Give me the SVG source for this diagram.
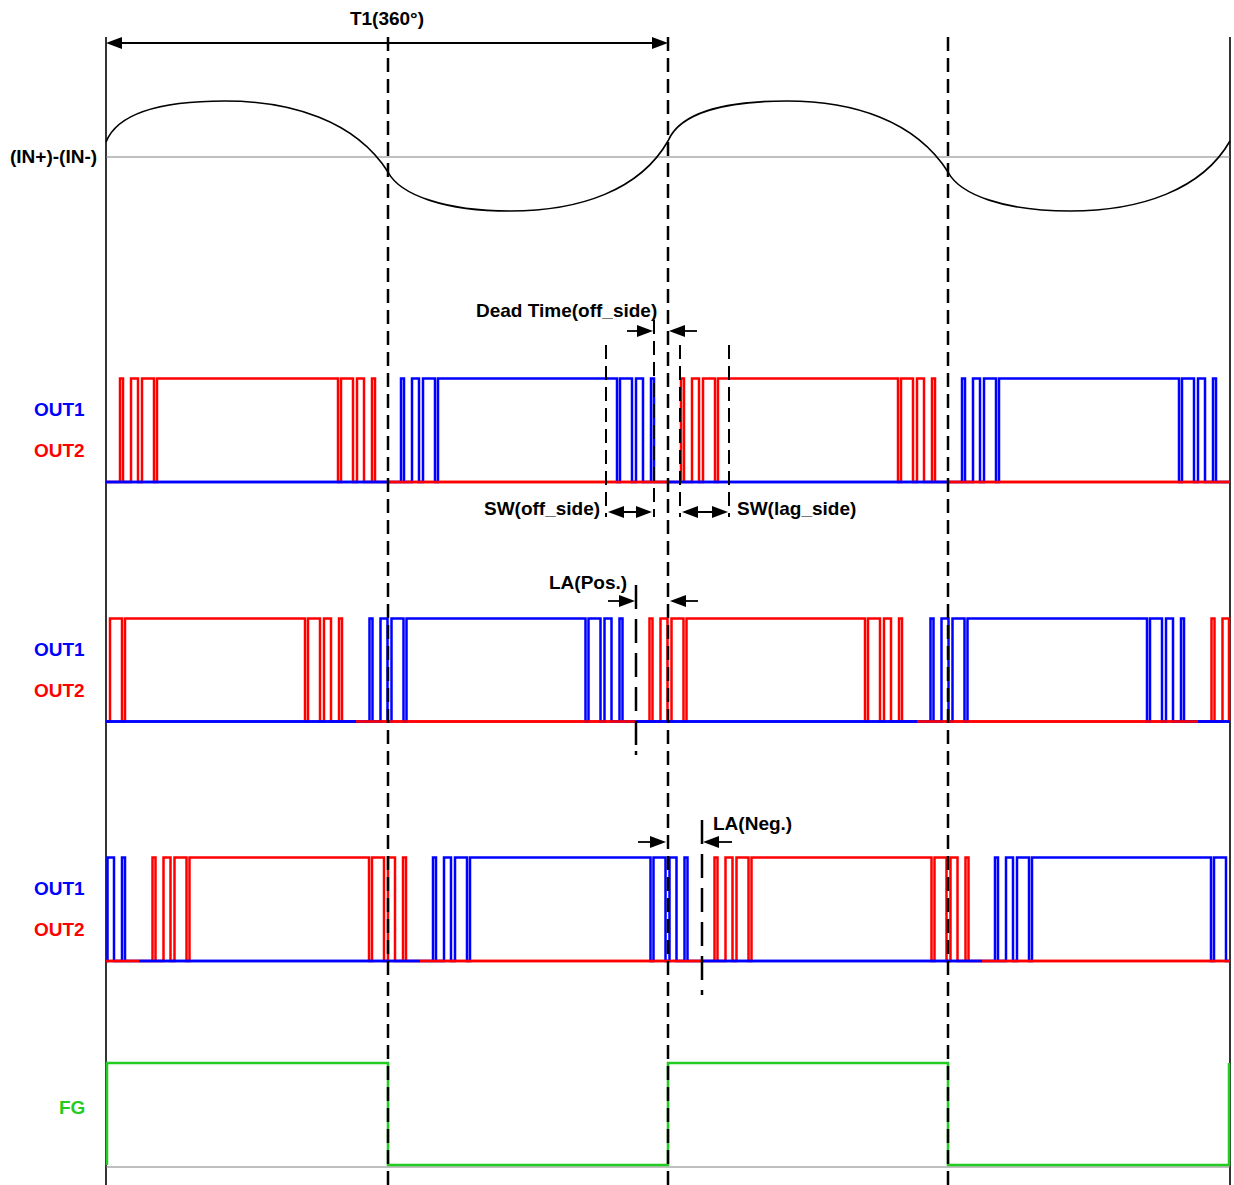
<svg xmlns="http://www.w3.org/2000/svg" width="1234" height="1185" viewBox="0 0 1234 1185">
<style>
text{font-family:"Liberation Sans",Arial,sans-serif;font-weight:bold;font-size:19px;fill:#000}
.b{fill:#0000FF}.r{fill:#FF0000}.g{fill:#22CC22}
.sig{fill:none;stroke-width:2.5;stroke-linejoin:miter}
.rs{stroke:#FF0000}.bs{stroke:#0000FF}
.axis{stroke:#000;stroke-width:1.6;fill:none}
.zero{stroke:#808080;stroke-width:1.2;fill:none}
.dash{stroke:#000;stroke-width:2.5;stroke-dasharray:14 7;fill:none}
.dashs{stroke:#000;stroke-width:2;stroke-dasharray:14 7;fill:none}
.dd{stroke:#000;stroke-width:2.5;stroke-dasharray:24 10;fill:none}
.arr{stroke:#000;stroke-width:1.8;fill:none;marker-end:url(#ah)}
.arr2{stroke:#000;stroke-width:1.8;fill:none;marker-start:url(#ah);marker-end:url(#ah)}
</style>
<defs>
<marker id="ah" viewBox="0 0 16 12" refX="12" refY="6" markerWidth="16" markerHeight="12" markerUnits="userSpaceOnUse" orient="auto-start-reverse"><path d="M0,0L16,6L0,12z" fill="#000"/></marker>
</defs>

<g id="frame">
<line class="axis" x1="106" y1="37" x2="106" y2="1185"/>
<line class="axis" x1="1230" y1="37" x2="1230" y2="1185"/>
<line class="zero" x1="106" y1="157" x2="1230" y2="157"/>
<line class="zero" x1="106" y1="1167" x2="1230" y2="1167"/>
</g>

<g id="labels">
<text x="387" y="25" text-anchor="middle">T1(360°)</text>
<text x="10" y="163">(IN+)-(IN-)</text>
<text x="34" y="416" class="b">OUT1</text>
<text x="34" y="457" class="r">OUT2</text>
<text x="34" y="656" class="b">OUT1</text>
<text x="34" y="697" class="r">OUT2</text>
<text x="34" y="895" class="b">OUT1</text>
<text x="34" y="936" class="r">OUT2</text>
<text x="59" y="1114" class="g">FG</text>
<text x="476" y="317">Dead Time(off_side)</text>
<text x="484" y="515">SW(off_side)</text>
<text x="737" y="515">SW(lag_side)</text>
<text x="549" y="589">LA(Pos.)</text>
<text x="713" y="830">LA(Neg.)</text>
</g>

<g id="sine">
<path fill="none" stroke="#000" stroke-width="1.6" d="M106,142 C118,112 165,101 225,101 C290,101 355,120 388,172 C400,195 445,211 510,211 C580,211 640,190 668,141 C680,112 727,101 787,101 C852,101 915,120 948,172 C960,195 1005,211 1070,211 C1140,211 1202,190 1230,141"/>
</g>

<g id="panel1">
<path class="sig rs" d="M106,482 H120 V378.5 H123 V482 H131 V378.5 H138 V482 H142 V378.5 H154 V482 H157 V378.5 H338 V482 H341 V378.5 H353 V482 H357 V378.5 H364 V482 H372 V378.5 H375 V482 H681 V378.5 H684 V482 H692 V378.5 H699 V482 H703 V378.5 H715 V482 H718 V378.5 H898 V482 H901 V378.5 H913 V482 H917 V378.5 H924 V482 H932 V378.5 H935 V482 H1230"/>
<path class="sig bs" d="M106,482 H401 V378.5 H404 V482 H412 V378.5 H419 V482 H423 V378.5 H435 V482 H438 V378.5 H617 V482 H620 V378.5 H632 V482 H636 V378.5 H643 V482 H651 V378.5 H654 V482 H962 V378.5 H965 V482 H973 V378.5 H980 V482 H984 V378.5 H996 V482 H999 V378.5 H1179 V482 H1182 V378.5 H1194 V482 H1198 V378.5 H1205 V482 H1213 V378.5 H1216 V482 H1230"/>
<path class="sig bs" d="M106,482H388M667.5,482H948.5"/>
<path class="sig rs" d="M388,482H667.5M948.5,482H1230"/>
</g>

<g id="panel2">
<path class="sig rs" d="M106,721.5 H110 V618.5 H122 V721.5 H125 V618.5 H305 V721.5 H308 V618.5 H320 V721.5 H324 V618.5 H331 V721.5 H339 V618.5 H342 V721.5 H649.5 V618.5 H652.5 V721.5 H660.5 V618.5 H667.5 V721.5 H671.5 V618.5 H683.5 V721.5 H686.5 V618.5 H865 V721.5 H868 V618.5 H880 V721.5 H884 V618.5 H891 V721.5 H899 V618.5 H902 V721.5 H1211.5 V618.5 H1214.5 V721.5 H1222.5 V618.5 H1229 V721.5 H1230"/>
<path class="sig bs" d="M106,721.5 H369.5 V618.5 H372.5 V721.5 H380.5 V618.5 H387.5 V721.5 H391.5 V618.5 H403.5 V721.5 H406.5 V618.5 H585.5 V721.5 H588.5 V618.5 H600.5 V721.5 H604.5 V618.5 H611.5 V721.5 H619.5 V618.5 H622.5 V721.5 H930.5 V618.5 H933.5 V721.5 H941.5 V618.5 H948.5 V721.5 H952.5 V618.5 H964.5 V721.5 H967.5 V618.5 H1147 V721.5 H1150 V618.5 H1162 V721.5 H1166 V618.5 H1173 V721.5 H1181 V618.5 H1184 V721.5 H1230"/>
<path class="sig bs" d="M106,721.5H356M636,721.5H917M1198,721.5H1230"/>
<path class="sig rs" d="M356,721.5H636M917,721.5H1198"/>
</g>

<g id="panel3">
<path class="sig rs" d="M106,961 H152.5 V857.5 H155.5 V961 H163.5 V857.5 H170.5 V961 H174.5 V857.5 H186.5 V961 H189.5 V857.5 H369 V961 H372 V857.5 H384 V961 H388 V857.5 H395 V961 H403 V857.5 H406 V961 H714.5 V857.5 H717.5 V961 H725.5 V857.5 H732.5 V961 H736.5 V857.5 H748.5 V961 H751.5 V857.5 H931.5 V961 H934.5 V857.5 H946.5 V961 H950.5 V857.5 H957.5 V961 H965.5 V857.5 H968.5 V961 H1230"/>
<path class="sig bs" d="M106,961 H107.5 V857.5 H114 V961 H122 V857.5 H125 V961 H433 V857.5 H436 V961 H444 V857.5 H451 V961 H455 V857.5 H467 V961 H470 V857.5 H650.5 V961 H653.5 V857.5 H665.5 V961 H669.5 V857.5 H676.5 V961 H684.5 V857.5 H687.5 V961 H995 V857.5 H998 V961 H1006 V857.5 H1013 V961 H1017 V857.5 H1029 V961 H1032 V857.5 H1211 V961 H1214 V857.5 H1226 V961 H1230"/>
<path class="sig rs" d="M106,961H139M420,961H701M982,961H1230"/>
<path class="sig bs" d="M139,961H420M701,961H982"/>
</g>

<g id="fg">
<path fill="none" stroke="#22CC22" stroke-width="2.5" d="M107,1165 V1063 H388 V1165 H668 V1063 H948 V1165 H1229 V1063"/>
</g>

<g id="connectors">
<line class="dash" x1="388" y1="37" x2="388" y2="1185"/>
<line class="dash" x1="668" y1="37" x2="668" y2="1185"/>
<line class="dash" x1="948" y1="37" x2="948" y2="1185"/>
<line class="dashs" x1="606" y1="345" x2="606" y2="517"/>
<line class="dashs" x1="654" y1="320" x2="654" y2="517"/>
<line class="dashs" x1="680" y1="345" x2="680" y2="517"/>
<line class="dashs" x1="729" y1="345" x2="729" y2="517"/>
<line class="dd" x1="636" y1="585" x2="636" y2="745"/>
<line class="dd" x1="636" y1="751" x2="636" y2="755"/>
<line class="dd" x1="702" y1="820" x2="702" y2="980"/>
<line class="dd" x1="702" y1="990" x2="702" y2="995"/>
<line class="arr2" x1="110" y1="43" x2="664" y2="43"/>
<line class="arr" x1="627" y1="331" x2="649" y2="331"/>
<line class="arr" x1="697" y1="331" x2="673" y2="331"/>
<line class="arr2" x1="612" y1="512" x2="648" y2="512"/>
<line class="arr2" x1="686" y1="512" x2="724" y2="512"/>
<line class="arr" x1="608" y1="601" x2="631" y2="601"/>
<line class="arr" x1="698" y1="601" x2="674" y2="601"/>
<line class="arr" x1="638" y1="842" x2="662" y2="842"/>
<line class="arr" x1="732" y1="842" x2="707" y2="842"/>
</g>
</svg>
